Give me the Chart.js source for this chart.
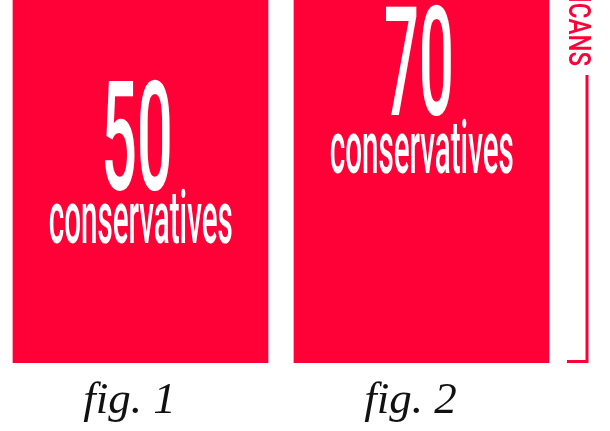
<!DOCTYPE html>
<html>
<head>
<meta charset="utf-8">
<script src="https://cdn.jsdelivr.net/npm/chart.js@4"></script>
<style>
  html, body { margin: 0; padding: 0; background: #fff; }
  #wrap { width: 610px; height: 431px; }
</style>
</head>
<body>
<div id="wrap"><canvas id="graph" width="610" height="431"></canvas></div>
<script>
var figures = ['fig. 1', 'fig. 2']
var conservatives = [50, 70]
var unitLabel = 'conservatives'
var sideLabel = 'REPUBLICANS'
var red = '#ff0037'

// squeeze text horizontally so its ink fits a given width
function squashText(ctx, text, cx, baseline, font, inkWidth) {
    ctx.font = font
    var m = ctx.measureText(text)
    var w = m.actualBoundingBoxLeft + m.actualBoundingBoxRight
    var s = inkWidth / w
    var mid = (m.actualBoundingBoxRight - m.actualBoundingBoxLeft) / 2
    ctx.save()
    ctx.translate(cx, baseline)
    ctx.scale(s, 1)
    ctx.textAlign = 'left'
    ctx.textBaseline = 'alphabetic'
    ctx.fillText(text, -mid, 0)
    ctx.restore()
}

var barText = {
    id: 'barText',
    afterDatasetsDraw: function (chart, args, opts) {
        var ctx = chart.ctx
        var area = chart.chartArea
        var bars = chart.getDatasetMeta(0).data
        ctx.save()
        ctx.fillStyle = '#fff'
        for (var i = 0; i < bars.length; i++) {
            var x = bars[i].x
            squashText(ctx, String(conservatives[i]), x - 3, area.top + opts.numberBase[i],
                '500 153px Roboto', 65)
            squashText(ctx, unitLabel, x, area.top + opts.wordBase[i],
                '500 74px Roboto', 182)
        }
        ctx.restore()
    }
}

var bracket = {
    id: 'bracket',
    afterDraw: function (chart, args, opts) {
        var ctx = chart.ctx
        var area = chart.chartArea
        var x = area.right + opts.gap
        ctx.save()
        ctx.strokeStyle = red
        ctx.lineWidth = 3
        ctx.beginPath()
        ctx.moveTo(x, area.top + opts.top)
        ctx.lineTo(x, area.bottom - 1.5)
        ctx.lineTo(x - 20, area.bottom - 1.5)
        ctx.stroke()
        // rotated side label, cut off by the top edge
        ctx.translate(x - 18, area.top + opts.top - 9)
        ctx.rotate(Math.PI / 2)
        ctx.font = '500 32px Roboto'
        ctx.fillStyle = red
        ctx.textAlign = 'right'
        ctx.textBaseline = 'alphabetic'
        ctx.scale(0.75, 1)
        ctx.fillText(sideLabel, 0, 0)
        ctx.restore()
    }
}

var ctx = document.getElementById('graph').getContext('2d')
var graph = new Chart(ctx, {
    type: 'bar',
    data: {
        labels: figures,
        datasets: [{
            data: conservatives,
            backgroundColor: red,
            borderWidth: 0,
            barPercentage: 0.91,
            categoryPercentage: 1
        }]
    },
    options: {
        responsive: false,
        animation: false,
        events: [],
        layout: { padding: { left: 0, right: 48, top: 0, bottom: -8 } },
        scales: {
            x: {
                grid: { display: false, drawTicks: false },
                border: { display: false },
                ticks: {
                    padding: 11,
                    labelOffset: -11,
                    color: '#111',
                    font: { family: 'Liberation Serif', style: 'italic', size: 45 }
                }
            },
            y: { display: false, min: 0, max: 40 }
        },
        plugins: {
            legend: { display: false },
            tooltip: { enabled: false },
            barText: { numberBase: [190, 115], wordBase: [243, 173] },
            bracket: { gap: 25, top: 75 }
        }
    },
    plugins: [barText, bracket]
})
</script>
</body>
</html>
